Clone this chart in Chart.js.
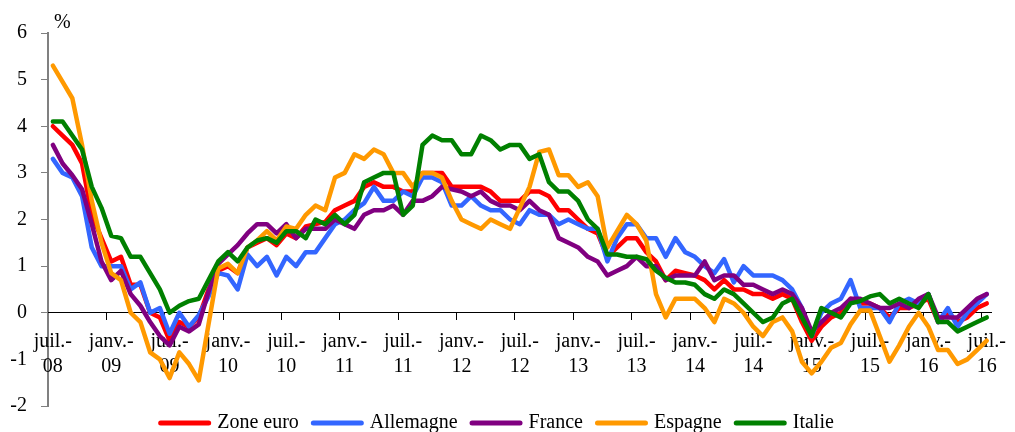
<!DOCTYPE html>
<html><head><meta charset="utf-8">
<script src="https://cdn.jsdelivr.net/npm/chart.js@4.4.1/dist/chart.umd.min.js"></script>
<style>html,body{margin:0;padding:0;background:#fff}#wrap{width:1015px;height:432px;position:relative}canvas{display:block}</style>
</head><body><div id="wrap"><canvas id="c" width="1015" height="432"></canvas></div>
<script>
const categories = [
 '2008-07','2008-08','2008-09','2008-10','2008-11','2008-12',
 '2009-01','2009-02','2009-03','2009-04','2009-05','2009-06','2009-07','2009-08','2009-09','2009-10','2009-11','2009-12',
 '2010-01','2010-02','2010-03','2010-04','2010-05','2010-06','2010-07','2010-08','2010-09','2010-10','2010-11','2010-12',
 '2011-01','2011-02','2011-03','2011-04','2011-05','2011-06','2011-07','2011-08','2011-09','2011-10','2011-11','2011-12',
 '2012-01','2012-02','2012-03','2012-04','2012-05','2012-06','2012-07','2012-08','2012-09','2012-10','2012-11','2012-12',
 '2013-01','2013-02','2013-03','2013-04','2013-05','2013-06','2013-07','2013-08','2013-09','2013-10','2013-11','2013-12',
 '2014-01','2014-02','2014-03','2014-04','2014-05','2014-06','2014-07','2014-08','2014-09','2014-10','2014-11','2014-12',
 '2015-01','2015-02','2015-03','2015-04','2015-05','2015-06','2015-07','2015-08','2015-09','2015-10','2015-11','2015-12',
 '2016-01','2016-02','2016-03','2016-04','2016-05','2016-06','2016-07'
];
const tickLabels = [
 ['juil.-','08'],['janv.-','09'],['juil.-','09'],['janv.-','10'],['juil.-','10'],['janv.-','11'],
 ['juil.-','11'],['janv.-','12'],['juil.-','12'],['janv.-','13'],['juil.-','13'],['janv.-','14'],
 ['juil.-','14'],['janv.-','15'],['juil.-','15'],['janv.-','16'],['juil.-','16']
];
const seriesNames = ['Zone euro','Allemagne','France','Espagne','Italie'];
const seriesColors = ['#FF0000','#3366FF','#800080','#FF9900','#008000'];

const zoneEuro = [
 4.0,3.8,3.6,3.2,2.1,1.6,
 1.1,1.2,0.6,0.6,0.0,-0.1,-0.6,-0.2,-0.3,-0.1,0.5,0.9,
 1.0,0.85,1.4,1.5,1.6,1.45,1.7,1.6,1.85,1.9,1.95,2.2,
 2.3,2.4,2.7,2.8,2.7,2.7,2.6,2.6,3.0,3.0,3.0,2.7,
 2.7,2.7,2.7,2.6,2.4,2.4,2.4,2.6,2.6,2.5,2.2,2.2,
 2.0,1.8,1.7,1.2,1.4,1.6,1.6,1.3,1.1,0.7,0.9,0.85,
 0.8,0.7,0.5,0.7,0.5,0.5,0.4,0.4,0.3,0.4,0.3,-0.2,
 -0.6,-0.3,-0.1,0.0,0.3,0.2,0.2,0.1,-0.1,0.1,0.1,0.2,
 0.3,-0.2,0.0,-0.2,-0.1,0.1,0.2
];
const allemagne = [
 3.3,3.0,2.9,2.5,1.4,1.0,
 1.0,1.0,0.5,0.65,0.0,0.1,-0.45,0.0,-0.3,-0.05,0.35,0.85,
 0.8,0.5,1.25,1.0,1.2,0.8,1.2,1.0,1.3,1.3,1.6,1.9,
 2.0,2.2,2.35,2.7,2.4,2.4,2.6,2.5,2.9,2.9,2.8,2.3,
 2.3,2.5,2.3,2.2,2.2,2.0,1.9,2.2,2.1,2.1,1.9,2.0,
 1.9,1.8,1.8,1.1,1.6,1.9,1.9,1.6,1.6,1.2,1.6,1.3,
 1.2,1.0,0.85,1.15,0.65,1.0,0.8,0.8,0.8,0.7,0.5,0.1,
 -0.5,0.0,0.2,0.3,0.7,0.1,0.1,0.1,-0.2,0.2,0.3,0.2,
 0.4,-0.2,0.1,-0.3,0.0,0.2,0.4
];
const france = [
 3.6,3.2,2.95,2.65,1.9,1.1,
 0.7,0.9,0.4,0.15,-0.2,-0.5,-0.7,-0.3,-0.4,-0.25,0.45,1.05,
 1.25,1.45,1.7,1.9,1.9,1.7,1.9,1.6,1.8,1.8,1.8,2.0,
 1.9,1.8,2.1,2.2,2.2,2.3,2.1,2.4,2.4,2.5,2.7,2.65,
 2.6,2.5,2.6,2.4,2.3,2.3,2.2,2.4,2.2,2.1,1.6,1.5,
 1.4,1.2,1.1,0.8,0.9,1.0,1.2,1.0,1.0,0.7,0.8,0.8,
 0.8,1.1,0.7,0.8,0.8,0.6,0.6,0.5,0.4,0.5,0.4,0.1,
 -0.4,-0.2,0.0,0.1,0.3,0.3,0.2,0.1,0.1,0.2,0.1,0.3,
 0.4,-0.1,-0.1,-0.1,0.1,0.3,0.4
];
const espagne = [
 5.3,4.95,4.6,3.6,2.4,1.5,
 0.85,0.7,0.0,-0.2,-0.85,-1.0,-1.4,-0.85,-1.1,-1.45,-0.25,0.95,
 1.05,0.85,1.4,1.55,1.75,1.55,1.85,1.8,2.1,2.3,2.2,2.9,
 3.0,3.4,3.3,3.5,3.4,3.0,3.0,2.7,3.0,3.0,2.9,2.4,
 2.0,1.9,1.8,2.0,1.9,1.8,2.25,2.7,3.45,3.5,2.95,2.95,
 2.7,2.8,2.5,1.4,1.75,2.1,1.9,1.55,0.4,-0.1,0.3,0.3,
 0.3,0.1,-0.2,0.3,0.2,0.0,-0.3,-0.5,-0.2,-0.1,-0.4,-1.05,
 -1.3,-1.05,-0.75,-0.65,-0.25,0.05,0.05,-0.5,-1.05,-0.7,-0.3,0.0,
 -0.3,-0.8,-0.8,-1.1,-1.0,-0.8,-0.6
];
const italie = [
 4.1,4.1,3.8,3.5,2.7,2.25,
 1.65,1.6,1.2,1.2,0.85,0.5,0.0,0.15,0.25,0.3,0.7,1.1,
 1.3,1.1,1.4,1.55,1.6,1.5,1.75,1.75,1.6,2.0,1.9,2.1,
 1.9,2.1,2.8,2.9,3.0,3.0,2.1,2.3,3.6,3.8,3.7,3.7,
 3.4,3.4,3.8,3.7,3.5,3.6,3.6,3.3,3.4,2.8,2.6,2.6,
 2.4,2.0,1.8,1.25,1.25,1.2,1.2,1.15,0.9,0.75,0.65,0.65,
 0.6,0.4,0.3,0.5,0.4,0.2,0.0,-0.2,-0.1,0.2,0.3,-0.1,
 -0.5,0.1,0.0,-0.1,0.2,0.25,0.35,0.4,0.2,0.3,0.2,0.1,
 0.4,-0.2,-0.2,-0.4,-0.3,-0.2,-0.1
];
const seriesValues = [zoneEuro, allemagne, france, espagne, italie];

const FONT = "'Liberation Serif', 'Times New Roman', serif";
const FSIZE = 20;

const lineLegend = {
  id: 'lineLegend',
  afterDraw(chart) {
    const ctx = chart.ctx;
    ctx.save();
    ctx.font = FSIZE + 'px ' + FONT;
    const boxW = 53, gapBT = 6, gapItem = 12;
    const items = chart.data.datasets.map(d => ({ text: d.label, color: d.borderColor, w: ctx.measureText(d.label).width }));
    const total = items.reduce((s, it) => s + boxW + gapBT + it.w, 0) + gapItem * (items.length - 1);
    let x = 496 - total / 2;
    const y = 423;
    ctx.textBaseline = 'middle';
    ctx.textAlign = 'left';
    ctx.lineCap = 'round';
    ctx.lineWidth = 5;
    items.forEach(it => {
      ctx.strokeStyle = it.color;
      ctx.beginPath();
      ctx.moveTo(x + 2.5, y);
      ctx.lineTo(x + boxW - 2.5, y);
      ctx.stroke();
      ctx.fillStyle = '#000';
      ctx.fillText(it.text, x + boxW + gapBT, y);
      x += boxW + gapBT + it.w + gapItem;
    });
    ctx.restore();
  }
};
const unitLabel = {
  id: 'unitLabel',
  afterDraw(chart) {
    const ctx = chart.ctx;
    ctx.save();
    ctx.font = FSIZE + 'px ' + FONT;
    ctx.fillStyle = '#000';
    ctx.textBaseline = 'middle';
    ctx.textAlign = 'left';
    ctx.fillText('%', chart.chartArea.left + 6, 23);
    ctx.restore();
  }
};

const datasets = seriesNames.map((name, k) => ({
  label: name,
  data: seriesValues[k],
  borderColor: seriesColors[k],
  backgroundColor: seriesColors[k],
  borderWidth: 4.5,
  pointRadius: 0,
  tension: 0,
  fill: false,
  borderJoinStyle: 'round',
  borderCapStyle: 'round',
  order: seriesNames.length - k
}));

new Chart(document.getElementById('c'), {
  type: 'line',
  data: { labels: categories, datasets },
  plugins: [lineLegend, unitLabel],
  options: {
    responsive: false,
    animation: false,
    devicePixelRatio: 1,
    layout: { padding: { top: 33, bottom: 24, left: 0, right: 14.5 } },
    plugins: { legend: { display: false }, tooltip: { enabled: false } },
    scales: {
      y: {
        min: -2, max: 6,
        ticks: { stepSize: 1, font: { family: FONT, size: FSIZE }, color: '#000', padding: 14 },
        grid: { drawOnChartArea: false, drawTicks: true, tickLength: 7, color: '#808080' },
        border: { color: '#808080', width: 2 },
        afterFit(s) { s.width = 48; }
      },
      x: {
        type: 'category',
        offset: true,
        position: { y: 0 },
        grid: {
          offset: true, drawOnChartArea: false, drawTicks: true, tickLength: 7,
          color: c => (c.index !== undefined && c.index % 6 === 0) ? '#000' : 'rgba(0,0,0,0)'
        },
        border: { color: '#000', width: 1 },
        ticks: {
          autoSkip: false, maxRotation: 0, minRotation: 0, padding: 9,
          font: { family: FONT, size: FSIZE, lineHeight: 1.25 }, color: '#000',
          callback: (v, i) => (i % 6 === 0 ? tickLabels[i / 6] : '')
        }
      }
    }
  }
});
</script>
</body></html>
